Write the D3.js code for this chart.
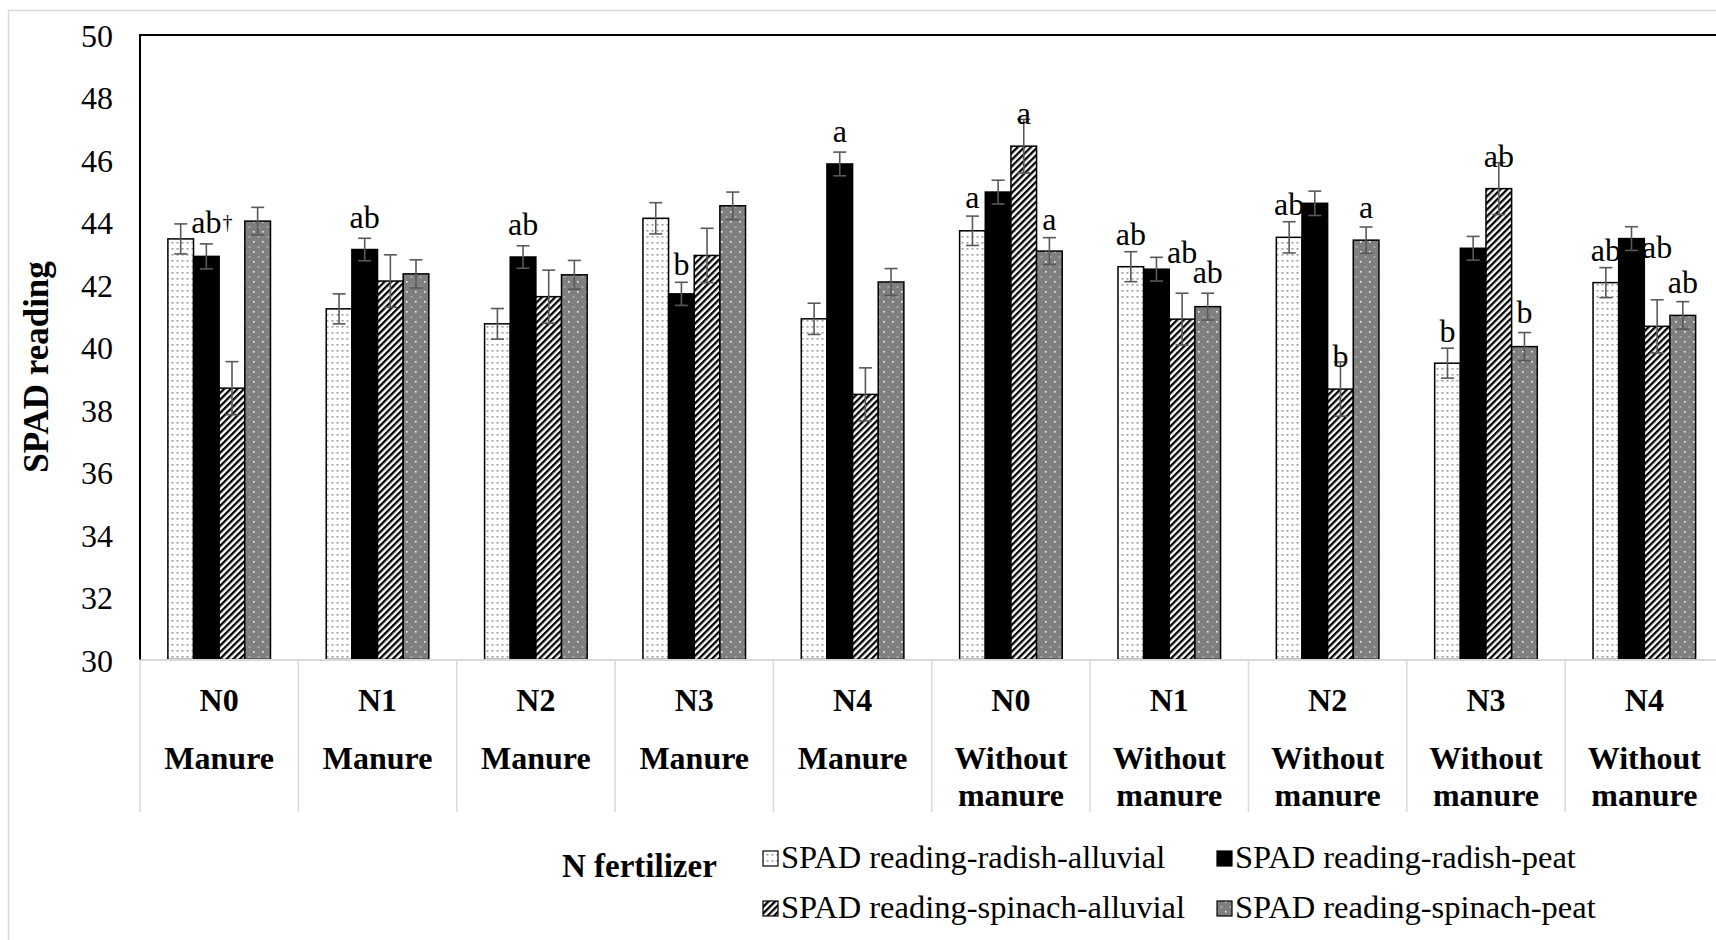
<!DOCTYPE html>
<html>
<head>
<meta charset="utf-8">
<script src="https://cdn.jsdelivr.net/npm/d3@7"></script>
<style>
  html, body { margin: 0; padding: 0; background: #fff; overflow: hidden; }
  svg { display: block; }
  text { font-family: "Liberation Serif", "Times New Roman", serif; fill: #000; }
</style>
</head>
<body>
<svg id="chart" width="1716" height="940"></svg>
<script>
// ---- Data ---------------------------------------------------------------
const nLevels   = ["N0", "N1", "N2", "N3", "N4", "N0", "N1", "N2", "N3", "N4"];
const manureCat = ["Manure", "Manure", "Manure", "Manure", "Manure",
                   "Without manure", "Without manure", "Without manure", "Without manure", "Without manure"];

const seriesNames = [
  "SPAD reading-radish-alluvial",
  "SPAD reading-radish-peat",
  "SPAD reading-spinach-alluvial",
  "SPAD reading-spinach-peat"
];

const radishAlluvial  = [43.47, 41.23, 40.75, 44.13, 40.91, 43.73, 42.58, 43.52, 39.49, 42.07];
const radishPeat      = [42.91, 43.13, 42.89, 41.71, 45.87, 44.97, 42.50, 44.61, 43.17, 43.48];
const spinachAlluvial = [38.69, 42.12, 41.62, 42.94, 38.49, 46.44, 40.90, 38.66, 45.08, 40.67];
const spinachPeat     = [44.04, 42.35, 42.32, 44.53, 42.09, 43.08, 41.30, 43.43, 40.02, 41.02];

const radishAlluvialErr  = [0.48, 0.48, 0.49, 0.50, 0.50, 0.47, 0.48, 0.50, 0.48, 0.48];
const radishPeatErr      = [0.40, 0.36, 0.36, 0.37, 0.38, 0.38, 0.38, 0.39, 0.38, 0.38];
const spinachAlluvialErr = [0.85, 0.84, 0.85, 0.87, 0.85, 0.86, 0.83, 0.87, 0.83, 0.85];
const spinachPeatErr     = [0.44, 0.45, 0.46, 0.44, 0.43, 0.43, 0.43, 0.42, 0.45, 0.44];

const yTicks = [30, 32, 34, 36, 38, 40, 42, 44, 46, 48, 50];

// significance letters: [category index, series index, letters, superscript, baseline value]
const letters = [
  [0, 1, "ab", "\u2020", 43.66],
  [1, 1, "ab", "", 43.82],
  [2, 1, "ab", "", 43.59],
  [3, 1, "b",  "", 42.31],
  [4, 1, "a",  "", 46.58],
  [5, 0, "a",  "", 44.46],
  [5, 2, "a",  "", 47.15],
  [5, 3, "a",  "", 43.75],
  [6, 0, "ab", "", 43.27],
  [6, 2, "ab", "", 42.69],
  [6, 3, "ab", "", 42.07],
  [7, 0, "ab", "", 44.24],
  [7, 2, "b",  "", 39.38],
  [7, 3, "a",  "", 44.13],
  [8, 0, "b",  "", 40.18],
  [8, 2, "ab", "", 45.78],
  [8, 3, "b",  "", 40.77],
  [9, 0, "ab", "", 42.77],
  [9, 2, "ab", "", 42.85],
  [9, 3, "ab", "", 41.73]
];

// ---- Build rows -----------------------------------------------------------
const values = [radishAlluvial, radishPeat, spinachAlluvial, spinachPeat];
const errors = [radishAlluvialErr, radishPeatErr, spinachAlluvialErr, spinachPeatErr];
const catIds = nLevels.map((n, i) => i);
const bars = [];
catIds.forEach(c => seriesNames.forEach((s, k) => {
  bars.push({ c, k, v: values[k][c], e: errors[k][c] });
}));

// ---- Layout ---------------------------------------------------------------
const svg = d3.select("#chart");
const plotLeft = 140, plotTop = 35, plotBottom = 659.5;
const bandW = 158.35;
const plotRight = plotLeft + bandW * catIds.length;

const x0 = d3.scaleBand().domain(catIds).range([plotLeft, plotRight]).padding(0);
const x1 = d3.scaleBand().domain(d3.range(seriesNames.length))
  .range([0, x0.bandwidth()]).paddingInner(0).paddingOuter(1.087);
const y = d3.scaleLinear().domain([30, 50]).range([plotBottom, plotTop]);

// ---- Fill patterns --------------------------------------------------------
const defs = svg.append("defs");

const pDotsLight = defs.append("pattern").attr("id", "dotsLight")
  .attr("patternUnits", "userSpaceOnUse").attr("width", 5).attr("height", 6);
pDotsLight.append("rect").attr("width", 5).attr("height", 6).attr("fill", "#fff");
pDotsLight.append("rect").attr("x", 1.5).attr("y", 2).attr("width", 2).attr("height", 1.6).attr("fill", "#9c9c9c");

const pHatch = defs.append("pattern").attr("id", "hatch")
  .attr("patternUnits", "userSpaceOnUse").attr("width", 4.7).attr("height", 4.7)
  .attr("patternTransform", "rotate(45)");
pHatch.append("rect").attr("width", 4.7).attr("height", 4.7).attr("fill", "#fff");
pHatch.append("rect").attr("width", 2.3).attr("height", 4.7).attr("fill", "#000");

const pDotsDark = defs.append("pattern").attr("id", "dotsDark")
  .attr("patternUnits", "userSpaceOnUse").attr("width", 9).attr("height", 10);
pDotsDark.append("rect").attr("width", 9).attr("height", 10).attr("fill", "#7f7f7f");
pDotsDark.append("rect").attr("x", 1).attr("y", 1).attr("width", 1.6).attr("height", 1.6).attr("fill", "#f2f2f2");
pDotsDark.append("rect").attr("x", 5.5).attr("y", 6).attr("width", 2).attr("height", 2).attr("fill", "#a6a6a6");

const fills = ["url(#dotsLight)", "#000", "url(#hatch)", "url(#dotsDark)"];

// ---- Chart frame ----------------------------------------------------------
svg.append("rect").attr("x", 8.5).attr("y", 10.5).attr("width", 1800).attr("height", 1000)
  .attr("fill", "none").attr("stroke", "#d9d9d9").attr("stroke-width", 1.5);

// ---- Bars -----------------------------------------------------------------
const gBars = svg.append("g");
gBars.selectAll("rect").data(bars).join("rect")
  .attr("x", d => x0(d.c) + x1(d.k))
  .attr("y", d => y(d.v))
  .attr("width", x1.bandwidth())
  .attr("height", d => y(30) - y(d.v))
  .attr("fill", d => fills[d.k])
  .attr("stroke", "#000").attr("stroke-width", 1.5);

// ---- Error bars -----------------------------------------------------------
const gErr = svg.append("g").attr("stroke", "#595959").attr("stroke-width", 1.6).attr("fill", "none");
const capHalf = 6.5;
bars.forEach(d => {
  const cx = x0(d.c) + x1(d.k) + x1.bandwidth() / 2;
  const yt = y(d.v + d.e), yb = y(d.v - d.e);
  gErr.append("line").attr("x1", cx).attr("x2", cx).attr("y1", yt).attr("y2", yb);
  gErr.append("line").attr("x1", cx - capHalf).attr("x2", cx + capHalf).attr("y1", yt).attr("y2", yt);
  gErr.append("line").attr("x1", cx - capHalf).attr("x2", cx + capHalf).attr("y1", yb).attr("y2", yb);
});

// ---- Axes -----------------------------------------------------------------
// category axis line and dividers
svg.append("line").attr("x1", plotLeft).attr("x2", plotRight)
  .attr("y1", plotBottom + 0.5).attr("y2", plotBottom + 0.5)
  .attr("stroke", "#d9d9d9").attr("stroke-width", 2);
const bounds = catIds.map(c => x0(c)).concat([plotRight]);
svg.append("g").selectAll("line").data(bounds).join("line")
  .attr("x1", d => d).attr("x2", d => d)
  .attr("y1", plotBottom + 1).attr("y2", 812)
  .attr("stroke", "#d9d9d9").attr("stroke-width", 1.5);

// value axis and top border
svg.append("line").attr("x1", plotLeft).attr("x2", plotLeft)
  .attr("y1", plotTop - 1).attr("y2", plotBottom)
  .attr("stroke", "#000").attr("stroke-width", 2);
svg.append("line").attr("x1", plotLeft - 1).attr("x2", plotRight)
  .attr("y1", plotTop).attr("y2", plotTop)
  .attr("stroke", "#000").attr("stroke-width", 2);

// value tick labels
svg.append("g").selectAll("text").data(yTicks).join("text")
  .attr("x", 113).attr("y", d => y(d) + 12)
  .attr("text-anchor", "end").attr("font-size", 32)
  .text(d => d);

// axis title
svg.append("text")
  .attr("transform", "translate(48,367) rotate(-90)")
  .attr("text-anchor", "middle").attr("font-size", 35).attr("font-weight", "bold")
  .text("SPAD reading");

// category labels (two levels)
const gCat = svg.append("g").attr("font-size", 32).attr("font-weight", "bold").attr("text-anchor", "middle");
catIds.forEach(c => {
  const cx = x0(c) + x0.bandwidth() / 2;
  gCat.append("text").attr("x", cx).attr("y", 711).text(nLevels[c]);
  const words = manureCat[c].split(" ");
  gCat.append("text").attr("x", cx).attr("y", 769).text(words[0]);
  if (words.length > 1) {
    gCat.append("text").attr("x", cx).attr("y", 806).text(words.slice(1).join(" "));
  }
});

// ---- Significance letters --------------------------------------------------
const gLet = svg.append("g").attr("font-size", 32).attr("text-anchor", "middle");
letters.forEach(([c, k, txt, sup, at]) => {
  const cx = x0(c) + x1(k) + x1.bandwidth() / 2;
  const t = gLet.append("text").attr("x", cx).attr("y", y(at)).text(txt);
  if (sup) {
    const w = t.node().getComputedTextLength();
    gLet.append("text").attr("x", cx + w / 2 + 1).attr("y", y(at) - 4)
      .attr("text-anchor", "start").attr("font-size", 20).text(sup);
  }
});

// ---- Legend ---------------------------------------------------------------
svg.append("text").attr("x", 562).attr("y", 877)
  .attr("font-size", 33).attr("font-weight", "bold").text("N fertilizer");

const legendPos = [[763, 868], [1217, 868], [763, 918], [1217, 918]];
const gLeg = svg.append("g");
seriesNames.forEach((s, k) => {
  const [lx, ly] = legendPos[k];
  gLeg.append("rect").attr("x", lx).attr("y", ly - 17).attr("width", 15).attr("height", 15)
    .attr("fill", fills[k]).attr("stroke", "#000").attr("stroke-width", 1.2);
  gLeg.append("text").attr("x", lx + 18).attr("y", ly).attr("font-size", 32.5).text(s);
});
</script>
</body>
</html>
